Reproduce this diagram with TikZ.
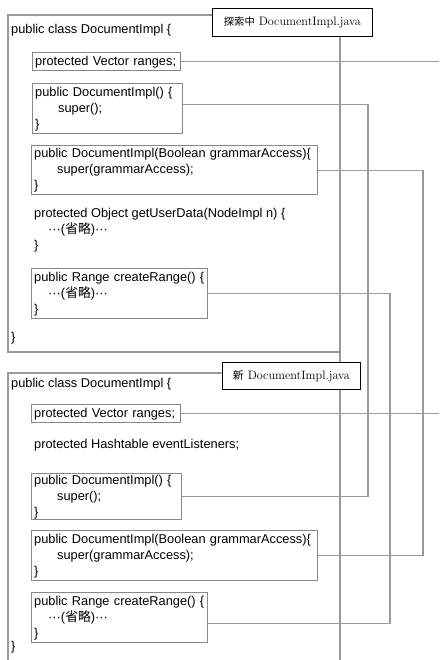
\documentclass[tikz,border=0pt]{standalone}
\usepackage{fontspec}
\newfontfamily\codefont{Liberation Sans}
\newfontfamily\cjk{Noto Sans CJK JP}
\definecolor{boxgray}{HTML}{888888}
\definecolor{linegray}{HTML}{9A9A9A}
\newcommand{\codeindent}{\hspace*{23pt}}
\newcommand{\omitted}{\hspace*{14pt}···({\cjk 省略})···}

\begin{document}
\begin{tikzpicture}[x=1pt, y=-1pt,
    codetype/.style={font=\codefont\fontsize{12.8}{16}\selectfont},
    codebox/.style={codetype, draw=boxgray, line width=1.4pt, fill=white, anchor=north west, align=left, inner xsep=2.5pt, inner ysep=0pt},
    codetext/.style={codetype, anchor=north west, align=left, inner sep=0pt},
    filelabel/.style={draw=black, line width=0.8pt, fill=white, anchor=north west, inner sep=0pt, font=\fontsize{12.2}{14}\selectfont},
    outline/.style={draw=linegray, line width=1.3pt},
    wire/.style={draw=linegray, line width=1.3pt}]
    \useasboundingbox (0,0) rectangle (439,660);

    \coordinate (topA) at (8,15);
    \coordinate (botA) at (8,352);
    \coordinate (topB) at (8,373);
    \coordinate (floor) at (0,660);
    \coordinate (spine) at (340,0);
    \coordinate (railA) at (368,0);
    \coordinate (railB) at (423,0);
    \coordinate (railC) at (390,0);
    \coordinate (edge) at (439,0);

    % file being searched
    \node[filelabel, minimum width=160pt, minimum height=28pt] (labelA) at (212,8) {{\cjk\fontsize{10.3}{14}\selectfont 探索中} DocumentImpl.java};
    \node[codetext, anchor=west] (classA) at (11,30) {public class DocumentImpl \{};
    \node[codebox, text width=143pt, minimum height=18pt] (rangesA) at (32,52) {protected Vector ranges;};
    \node[codebox, text width=145pt, minimum height=50pt] (ctorA) at (32,83) {public DocumentImpl() \{\\ \codeindent super();\\ \}};
    \node[codebox, text width=281pt, minimum height=49pt] (grammarA) at (31,145) {public DocumentImpl(Boolean grammarAccess)\{\\ \codeindent super(grammarAccess);\\ \}};
    \node[codetext] (userdataA) at (34,208) {protected Object getUserData(NodeImpl n) \{\\ \omitted\\ \}};
    \node[codebox, text width=171pt, minimum height=50pt] (rangeA) at (31,268) {public Range createRange() \{\\ \omitted\\ \}};
    \node[codetext, anchor=west] (braceA) at (11,338) {\}};

    % new file
    \node[filelabel, minimum width=138pt, minimum height=27pt] (labelB) at (222,362) {{\cjk\fontsize{10.8}{14}\selectfont 新} DocumentImpl.java};
    \node[codetext, anchor=west] (classB) at (11,384) {public class DocumentImpl \{};
    \node[codebox, text width=144pt, minimum height=18pt] (rangesB) at (31,404) {protected Vector ranges;};
    \node[codetext, anchor=west] (listenersB) at (34,445) {protected Hashtable eventListeners;};
    \node[codebox, text width=145pt, minimum height=46pt] (ctorB) at (31,473) {public DocumentImpl() \{\\ \codeindent super();\\ \}};
    \node[codebox, text width=281pt, minimum height=50pt] (grammarB) at (31,530) {public DocumentImpl(Boolean grammarAccess)\{\\ \codeindent super(grammarAccess);\\ \}};
    \node[codebox, text width=171pt, minimum height=50pt] (rangeB) at (31,592) {public Range createRange() \{\\ \omitted\\ \}};
    \node[codetext, anchor=west] (braceB) at (11,647) {\}};

    \coordinate (ctorAport) at ([yshift=4pt]ctorA.east);
    \coordinate (rangeBport) at ([yshift=-6pt]rangeB.east);

    % frames and time line
    \draw[outline] (labelA.west |- topA) -- (topA) -- (botA) -- (botA -| spine);
    \draw[outline] (labelB.west |- topB) -- (topB) -- (topB |- floor);
    \draw[outline] (labelA.south -| spine) -- (labelB.north -| spine);
    \draw[outline] (labelB.south -| spine) -- (floor -| spine);

    % matching members
    \draw[wire] (rangesA.east) -- (rangesA.east -| edge);
    \draw[wire] (rangesB.east) -- (rangesB.east -| edge);
    \draw[wire] (ctorAport) -| (ctorB.east -| railA) -- (ctorB.east);
    \draw[wire] (grammarA.east) -| (grammarB.east -| railB) -- (grammarB.east);
    \draw[wire] (rangeA.east) -| (rangeBport -| railC) -- (rangeBport);
\end{tikzpicture}
\end{document}
